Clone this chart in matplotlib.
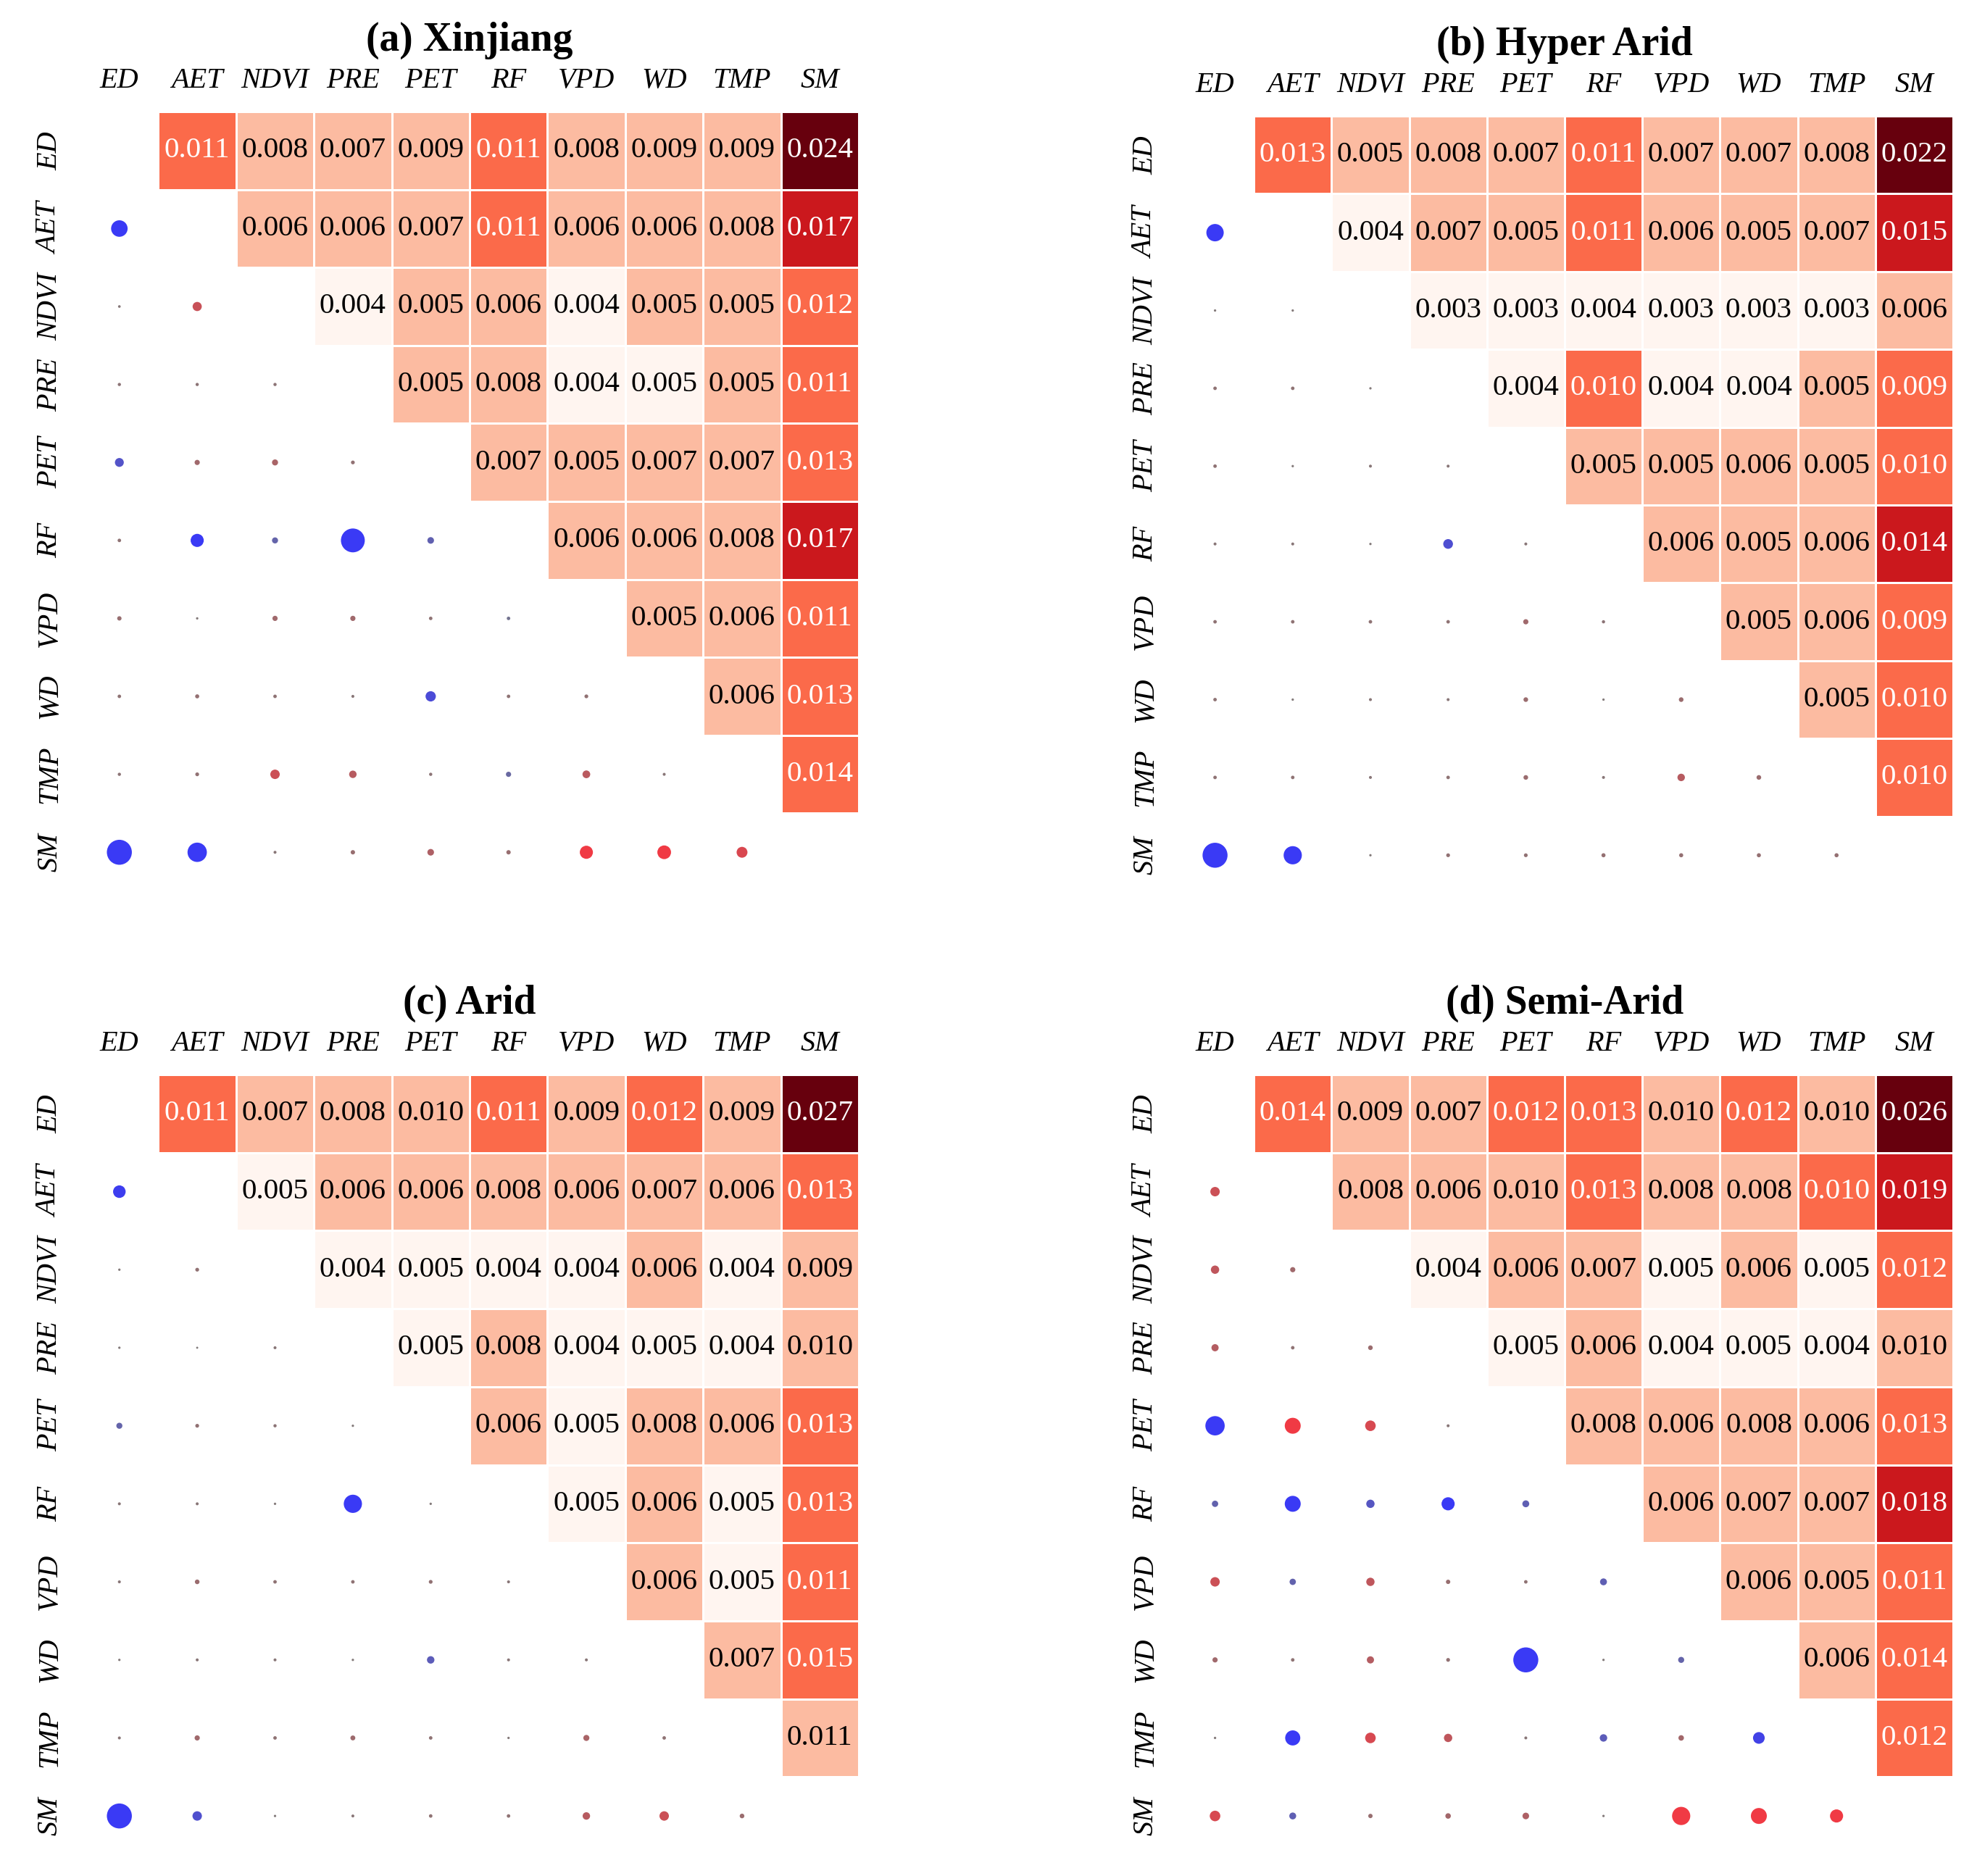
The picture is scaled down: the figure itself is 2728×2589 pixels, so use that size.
import numpy as np
import matplotlib
matplotlib.use("Agg")
import matplotlib.pyplot as plt
from matplotlib.colors import Normalize, LinearSegmentedColormap

plt.rcParams['font.family'] = ['Liberation Serif', 'DejaVu Serif']

# ---------------- data ----------------
VARIABLES = ["ED", "AET", "NDVI", "PRE", "PET", "RF", "VPD", "WD", "TMP", "SM"]

PANEL_TITLES = ["(a) Xinjiang", "(b) Hyper Arid", "(c) Arid", "(d) Semi-Arid"]

# upper triangle (row i, columns i+1..9): interaction importance
XJ_HEAT = [
    [0.011, 0.008, 0.007, 0.009, 0.011, 0.008, 0.009, 0.009, 0.024],
    [0.006, 0.006, 0.007, 0.011, 0.006, 0.006, 0.008, 0.017],
    [0.0044, 0.005, 0.006, 0.0044, 0.005, 0.005, 0.012],
    [0.005, 0.008, 0.004, 0.0047, 0.005, 0.011],
    [0.007, 0.005, 0.007, 0.007, 0.013],
    [0.006, 0.006, 0.008, 0.017],
    [0.005, 0.006, 0.011],
    [0.006, 0.013],
    [0.014],
]
HA_HEAT = [
    [0.013, 0.005, 0.008, 0.007, 0.011, 0.007, 0.007, 0.008, 0.022],
    [0.004, 0.007, 0.005, 0.011, 0.006, 0.005, 0.007, 0.015],
    [0.003, 0.003, 0.004, 0.003, 0.003, 0.003, 0.006],
    [0.004, 0.010, 0.004, 0.004, 0.005, 0.009],
    [0.005, 0.005, 0.006, 0.005, 0.010],
    [0.006, 0.005, 0.006, 0.014],
    [0.005, 0.006, 0.009],
    [0.005, 0.010],
    [0.010],
]
AR_HEAT = [
    [0.011, 0.007, 0.008, 0.010, 0.011, 0.009, 0.012, 0.009, 0.027],
    [0.005, 0.006, 0.006, 0.008, 0.006, 0.007, 0.006, 0.013],
    [0.004, 0.005, 0.004, 0.004, 0.006, 0.004, 0.009],
    [0.005, 0.008, 0.004, 0.005, 0.004, 0.010],
    [0.006, 0.005, 0.008, 0.006, 0.013],
    [0.005, 0.006, 0.005, 0.013],
    [0.006, 0.005, 0.011],
    [0.007, 0.015],
    [0.0106],
]
SA_HEAT = [
    [0.014, 0.009, 0.007, 0.012, 0.013, 0.010, 0.012, 0.010, 0.026],
    [0.008, 0.006, 0.010, 0.013, 0.008, 0.008, 0.01048, 0.019],
    [0.004, 0.006, 0.007, 0.005, 0.006, 0.005, 0.012],
    [0.005, 0.006, 0.004, 0.005, 0.004, 0.010],
    [0.008, 0.006, 0.008, 0.006, 0.013],
    [0.006, 0.007, 0.007, 0.018],
    [0.006, 0.0053, 0.011],
    [0.006, 0.014],
    [0.012],
]

# lower triangle (row i, columns 0..i-1): correlation coefficients
XJ_CORR = [
    [-0.52],
    [0.03, 0.26],
    [0.05, 0.05, 0.05],
    [-0.25, 0.12, 0.15, 0.07],
    [0.06, -0.40, -0.15, -0.78, -0.17],
    [0.09, 0.02, 0.12, 0.12, 0.06, -0.06],
    [0.06, 0.08, 0.06, 0.04, -0.30, 0.06, 0.07],
    [0.05, 0.07, 0.27, 0.20, 0.05, -0.12, 0.21, 0.04],
    [-0.82, -0.62, 0.04, 0.09, 0.17, 0.09, 0.40, 0.42, 0.32],
]
HA_CORR = [
    [-0.55],
    [0.02, 0.02],
    [0.06, 0.06, 0.02],
    [0.06, 0.02, 0.04, 0.04],
    [0.04, 0.04, 0.02, -0.28, 0.04],
    [0.06, 0.06, 0.06, 0.06, 0.12, 0.05],
    [0.06, 0.02, 0.04, 0.04, 0.10, 0.02, 0.10],
    [0.06, 0.06, 0.04, 0.06, 0.10, 0.04, 0.20, 0.10],
    [-0.82, -0.58, 0.02, 0.07, 0.07, 0.08, 0.08, 0.08, 0.08],
]
AR_CORR = [
    [-0.38],
    [0.02, 0.07],
    [0.02, 0.01, 0.04],
    [-0.15, 0.07, 0.05, 0.02],
    [0.04, 0.04, 0.02, -0.58, 0.02],
    [0.04, 0.10, 0.06, 0.06, 0.07, 0.04],
    [0.02, 0.04, 0.04, 0.02, -0.20, 0.04, 0.04],
    [0.04, 0.12, 0.06, 0.11, 0.06, 0.02, 0.15, 0.06],
    [-0.82, -0.27, 0.02, 0.04, 0.06, 0.06, 0.20, 0.27, 0.10],
]
SA_CORR = [
    [0.27],
    [0.23, 0.12],
    [0.19, 0.06, 0.10],
    [-0.62, 0.50, 0.31, 0.04],
    [-0.16, -0.50, -0.23, -0.40, -0.18],
    [0.27, -0.16, 0.23, 0.09, 0.06, -0.18],
    [0.12, 0.06, 0.19, 0.07, -0.82, 0.02, -0.15],
    [0.02, -0.47, 0.31, 0.23, 0.04, -0.20, 0.13, -0.35],
    [0.31, -0.18, 0.09, 0.13, 0.17, 0.02, 0.58, 0.50, 0.40],
]

HEATS = [XJ_HEAT, HA_HEAT, AR_HEAT, SA_HEAT]
CORRS = [XJ_CORR, HA_CORR, AR_CORR, SA_CORR]

# ---------------- layout ----------------
W, H = 2728, 2589
DPI = 100
# grid boxes in pixels: (left, top, right, bottom)
BOXES = [(111, 154, 1185, 1230), (1623, 160, 2695, 1234),
         (111, 1483, 1185, 2560), (1623, 1483, 2695, 2560)]

fig = plt.figure(figsize=(W / DPI, H / DPI), dpi=DPI)

heat_cmap = plt.get_cmap('Reds', 5)
dot_cmap = LinearSegmentedColormap.from_list(
    'dots', ['#3a3af5', '#7d7d7d', '#f03a44'])
dot_norm = Normalize(-0.4, 0.4)

n = len(VARIABLES)
for k in range(4):
    l, t, r, b = BOXES[k]
    ax = fig.add_axes([l / W, 1 - b / H, (r - l) / W, (b - t) / H])

    mat = np.full((n, n), np.nan)
    for i, row in enumerate(HEATS[k]):
        for j, v in enumerate(row):
            mat[i, i + 1 + j] = v
    vmax = np.nanmax(mat)
    norm = Normalize(0, vmax)
    edges = np.arange(n + 1) - 0.5
    ax.pcolormesh(edges, edges, np.ma.masked_invalid(mat), cmap=heat_cmap,
                  norm=norm, edgecolors='white', linewidth=0.8)
    for i in range(n):
        for j in range(n):
            v = mat[i, j]
            if np.isnan(v):
                continue
            idx = min(int(v / vmax * 5), 4)
            ax.text(j, i, f"{v:.3f}", ha='center', va='center',
                    fontsize=29.5, color='white' if idx >= 2 else 'black')

    xs, ys, cs = [], [], []
    for i, row in enumerate(CORRS[k]):
        for j, v in enumerate(row):
            xs.append(j)
            ys.append(i + 1)
            cs.append(v)
    cs = np.array(cs)
    # marker diameter in px: 2.5 + 39*|r|  (converted to points^2)
    sizes = ((2.5 + 39.0 * np.abs(cs)) * 72 / DPI) ** 2
    ax.scatter(xs, ys, s=sizes, c=cs, cmap=dot_cmap, norm=dot_norm,
               linewidths=0, zorder=3)

    ax.set_xlim(-0.5, n - 0.5)
    ax.set_ylim(n - 0.5, -0.5)
    ax.xaxis.tick_top()
    ax.set_xticks(range(n))
    ax.set_xticklabels(VARIABLES, fontstyle='italic', fontsize=29)
    ax.set_yticks(range(n))
    ax.set_yticklabels(VARIABLES, fontstyle='italic', fontsize=29,
                       rotation=90, va='center')
    ax.tick_params(length=0, pad=17)
    for s in ax.spines.values():
        s.set_visible(False)

    cx = (l + r) / 2 / W
    ty = 1 - (t - 84) / H
    fig.text(cx, ty, PANEL_TITLES[k], ha='center', va='baseline',
             fontsize=40, fontweight='bold')

fig.savefig('out.png', dpi=DPI)
